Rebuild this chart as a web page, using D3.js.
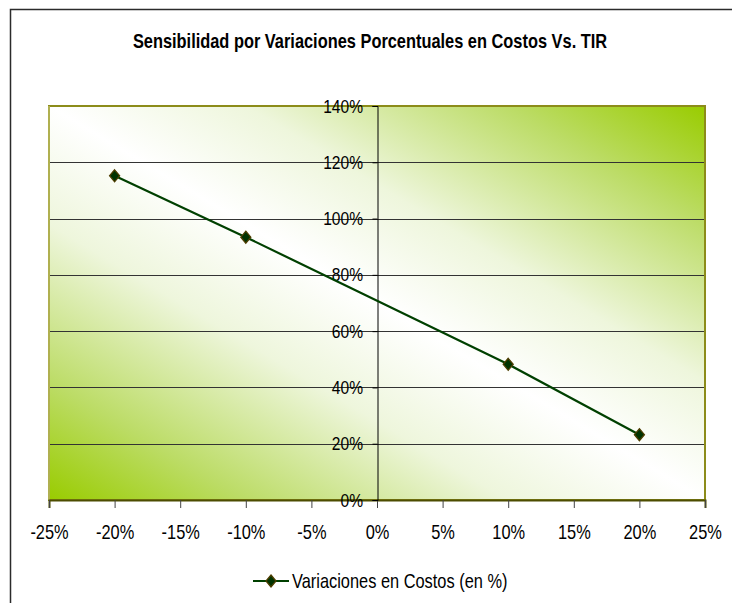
<!DOCTYPE html>
<html>
<head>
<meta charset="utf-8">
<script src="https://cdn.jsdelivr.net/npm/d3@7"></script>
<style>
  body { margin: 0; background: #fff; }
  svg text { font-family: "Liberation Sans", Arial, sans-serif; }
</style>
</head>
<body>
<div id="chart"></div>
<script>
// data
const variaciones = [-0.20, -0.10, 0.10, 0.20]
const tir = [1.152, 0.934, 0.482, 0.232]
const xTicks = [-0.25, -0.20, -0.15, -0.10, -0.05, 0, 0.05, 0.10, 0.15, 0.20, 0.25]
const yTicks = [0, 0.2, 0.4, 0.6, 0.8, 1.0, 1.2, 1.4]
const title = 'Sensibilidad por Variaciones Porcentuales en Costos Vs. TIR'
const serieName = 'Variaciones en Costos (en %)'

let svgWidth = 732,
    svgHeight = 603,
    plot = { left: 49, right: 705, top: 106, bottom: 500 }

let narrow = 0.82 // squeeze Liberation Sans to look like a narrow face

let svg = d3.select('#chart')
    .append('svg')
    .attr('width', svgWidth)
    .attr('height', svgHeight)

let x = d3.scaleLinear()
    .domain([-0.25, 0.25])
    .range([plot.left, plot.right])

let y = d3.scaleLinear()
    .domain([0, 1.4])
    .range([plot.bottom, plot.top])

let pct = d => Math.round(d * 100) + '%'

// outer chart frame (cut by the window on the right and bottom)
svg.append('rect')
    .attr('x', 10.5).attr('y', 9.5)
    .attr('width', 800).attr('height', 700)
    .attr('fill', '#fff')
    .attr('stroke', '#2b2b2b')
    .attr('stroke-width', 1.5)

// plot area gradient: green corners bottom-left / top-right, white diagonal
let grad = svg.append('defs').append('linearGradient')
    .attr('id', 'plotGrad')
    .attr('x1', 0).attr('y1', 1)
    .attr('x2', 1).attr('y2', 0)
let stops = [
    [0, '#99cc00'], [0.15, '#bcdc66'], [0.35, '#eef6dc'], [0.5, '#ffffff'],
    [0.65, '#eef6dc'], [0.85, '#bcdc66'], [1, '#99cc00']
]
grad.selectAll('stop')
    .data(stops)
    .enter().append('stop')
    .attr('offset', d => d[0])
    .attr('stop-color', d => d[1])

svg.append('rect')
    .attr('x', plot.left).attr('y', plot.top)
    .attr('width', plot.right - plot.left)
    .attr('height', plot.bottom - plot.top)
    .attr('fill', 'url(#plotGrad)')

// gridlines
svg.append('g')
    .selectAll('line')
    .data(yTicks.filter(d => d > 0))
    .enter().append('line')
    .attr('x1', plot.left).attr('x2', plot.right)
    .attr('y1', d => Math.round(y(d)) + 0.5)
    .attr('y2', d => Math.round(y(d)) + 0.5)
    .attr('stroke', '#333')
    .attr('stroke-width', 1)

// plot border
svg.append('rect')
    .attr('x', plot.left).attr('y', plot.top)
    .attr('width', plot.right - plot.left)
    .attr('height', plot.bottom - plot.top)
    .attr('fill', 'none')
    .attr('stroke', '#8c8c1a')
    .attr('stroke-width', 2)
svg.append('line')
    .attr('x1', plot.left).attr('x2', plot.left)
    .attr('y1', plot.top).attr('y2', plot.bottom)
    .attr('stroke', '#b0b050').attr('stroke-width', 2)

// x axis at the bottom
let xAxis = svg.append('g')
    .attr('transform', `translate(0,${plot.bottom})`)
    .call(d3.axisBottom(x).tickValues(xTicks).tickFormat(pct).tickSize(8))
xAxis.select('.domain').attr('stroke', '#4d4d00').attr('stroke-width', 2)
xAxis.selectAll('.tick line').attr('stroke', '#444')
xAxis.selectAll('text')
    .attr('y', 25)
    .attr('font-size', 20)
    .attr('fill', '#000')
    .attr('transform', `scale(${narrow},1)`)

// y axis sits on x = 0
let yAxis = svg.append('g')
    .attr('transform', `translate(${Math.round(x(0)) + 0.5},0)`)
    .call(d3.axisLeft(y).tickValues(yTicks).tickFormat(pct).tickSize(5))
yAxis.select('.domain').attr('stroke', '#000')
yAxis.selectAll('.tick line').attr('stroke', '#000')
yAxis.selectAll('text')
    .attr('x', -14.5 / narrow)
    .attr('font-size', 19)
    .attr('fill', '#000')
    .attr('transform', `scale(${narrow},1)`)

// series line
let pts = variaciones.map((v, i) => [v, tir[i]])
svg.append('path')
    .datum(pts)
    .attr('fill', 'none')
    .attr('stroke', '#004000')
    .attr('stroke-width', 2.2)
    .attr('d', d3.line().x(d => x(d[0])).y(d => y(d[1])))

// diamond marker, a bit taller than wide
let diamondType = {
    draw(ctx, size) {
        let w = 5, h = 6
        ctx.moveTo(0, -h)
        ctx.lineTo(w, 0)
        ctx.lineTo(0, h)
        ctx.lineTo(-w, 0)
        ctx.closePath()
    }
}
let diamond = d3.symbol().type(diamondType)

svg.append('g')
    .selectAll('path')
    .data(pts)
    .enter().append('path')
    .attr('transform', d => `translate(${x(d[0])},${y(d[1])})`)
    .attr('d', diamond)
    .attr('fill', '#003300')
    .attr('stroke', '#4d3d00')
    .attr('stroke-width', 1.3)

// title
svg.append('text')
    .attr('transform', `translate(370,48) scale(${narrow},1)`)
    .attr('text-anchor', 'middle')
    .attr('font-weight', 'bold')
    .attr('font-size', 20)
    .attr('fill', '#000')
    .text(title)

// legend, centred under the plot
let legend = svg.append('g').attr('transform', 'translate(253,581)')
legend.append('line')
    .attr('x1', 0).attr('x2', 36)
    .attr('stroke', '#004000').attr('stroke-width', 2.2)
legend.append('path')
    .attr('transform', 'translate(18,0)')
    .attr('d', diamond)
    .attr('fill', '#003300')
    .attr('stroke', '#4d3d00')
    .attr('stroke-width', 1.3)
legend.append('text')
    .attr('transform', `translate(39,7) scale(${narrow},1)`)
    .attr('font-size', 20)
    .attr('fill', '#000')
    .text(serieName)
</script>
</body>
</html>
